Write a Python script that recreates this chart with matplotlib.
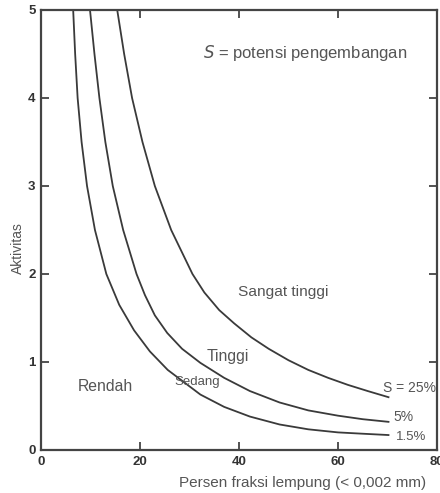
import matplotlib.pyplot as plt

plt.rcParams['font.family'] = ['Liberation Sans', 'DejaVu Sans']

# persen fraksi lempung vs aktivitas, dibaca per kurva
c_15 = [6.5, 6.9, 7.4, 8.2, 9.3, 10.9, 13.2, 15.8, 18.8, 22.0, 25.6, 32.2, 37.0,
        42.2, 48.2, 54.0, 60.0, 65.0, 70.2]
a_15 = [5.0, 4.5, 4.0, 3.5, 3.0, 2.5, 2.0, 1.65, 1.36, 1.12, 0.91, 0.63, 0.49,
        0.38, 0.29, 0.235, 0.2, 0.185, 0.17]

c_5 = [9.9, 10.8, 11.8, 13.0, 14.5, 16.6, 19.3, 21.0, 23.0, 25.5, 28.5, 32.2, 37.0,
       42.2, 48.2, 54.0, 60.0, 65.0, 70.2]
a_5 = [5.0, 4.5, 4.0, 3.5, 3.0, 2.5, 2.0, 1.76, 1.53, 1.33, 1.15, 0.99, 0.82,
       0.67, 0.54, 0.45, 0.39, 0.35, 0.32]

c_25 = [15.4, 16.8, 18.4, 20.5, 23.0, 26.3, 30.6, 33.0, 36.0, 39.0, 42.5, 46.0,
        50.0, 54.0, 58.0, 62.0, 66.0, 70.2]
a_25 = [5.0, 4.5, 4.0, 3.5, 3.0, 2.5, 2.0, 1.79, 1.59, 1.44, 1.28, 1.15,
        1.02, 0.91, 0.82, 0.74, 0.67, 0.60]

curve_labels = ['S = 25%', '5%', '1.5%']
zone_labels = ['Rendah', 'Sedang', 'Tinggi', 'Sangat tinggi']

fig = plt.figure(figsize=(4.4, 4.93), dpi=100)
ax = fig.add_axes([41 / 440, 43 / 493, 396 / 440, 440 / 493])

line_col = '#3a3a3a'
text_col = '#555555'
for c, a in [(c_15, a_15), (c_5, a_5), (c_25, a_25)]:
    ax.plot(c, a, color=line_col, lw=1.3, solid_joinstyle='round')

ax.set_xlim(0, 80)
ax.set_ylim(0, 5)
ax.set_xticks([0, 20, 40, 60, 80])
ax.set_yticks([0, 1, 2, 3, 4, 5])
ax.tick_params(direction='in', length=6, width=1.3, color='#444444',
               top=True, right=True, labelsize=9.5, labelcolor='#333333', pad=4)
for lab in ax.get_xticklabels() + ax.get_yticklabels():
    lab.set_fontweight('bold')
for sp in ax.spines.values():
    sp.set_linewidth(1.6)
    sp.set_color('#444444')

# label ujung kurva
ax.text(69.1, 0.70, curve_labels[0], fontsize=10, color=text_col, va='center')
ax.text(71.1, 0.375, curve_labels[1], fontsize=10, color=text_col, va='center')
ax.text(71.7, 0.15, curve_labels[2], fontsize=9.5, color=text_col, va='center')

# nama zona
ax.text(7.5, 0.72, zone_labels[0], fontsize=11.3, color=text_col, va='center')
ax.text(26.9, 0.77, zone_labels[1], fontsize=9.5, color=text_col, va='center')
ax.text(33.5, 1.06, zone_labels[2], fontsize=11.3, color=text_col, va='center')
ax.text(39.8, 1.80, zone_labels[3], fontsize=11.1, color=text_col, va='center')

ax.text(32.7, 4.51, r'$S$ = potensi pengembangan', fontsize=12, color=text_col, va='center')

ax.set_xlabel('Persen fraksi lempung (< 0,002 mm)', fontsize=11, color=text_col)
ax.xaxis.set_label_coords(0.66, -0.058)
ax.set_ylabel('Aktivitas', fontsize=10, color=text_col)
ax.yaxis.set_label_coords(-0.04, 0.46)

fig.savefig('out.png', dpi=100)
